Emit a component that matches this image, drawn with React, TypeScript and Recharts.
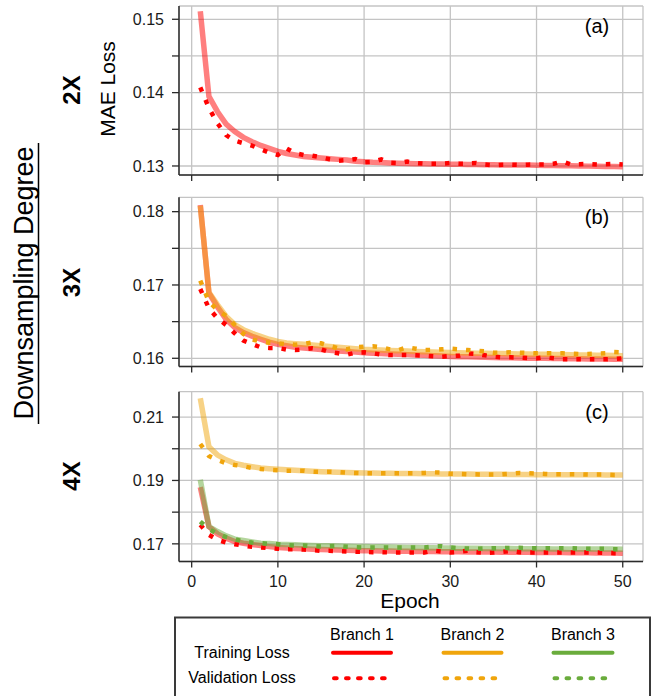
import React from 'react';
import { LineChart, Line, XAxis, YAxis, CartesianGrid } from 'recharts';

// ---------- data ----------
const epochs = [1, 2, 3, 4, 5, 6, 7, 8, 9, 10, 11, 12, 13, 14, 15, 16, 17, 18, 19, 20, 21, 22, 23, 24, 25, 26, 27, 28, 29, 30, 31, 32, 33, 34, 35, 36, 37, 38, 39, 40, 41, 42, 43, 44, 45, 46, 47, 48, 49, 50];
const xTicks = [0, 10, 20, 30, 40, 50];

// (a) 2X
const a_train_b1 = [0.1511, 0.1395, 0.1374, 0.1357, 0.1347, 0.1339, 0.1333, 0.1328, 0.1324, 0.132, 0.1317, 0.1315, 0.1313, 0.1312, 0.1311, 0.131, 0.1309, 0.1308, 0.13065, 0.13057, 0.1305, 0.13046, 0.13042, 0.13038, 0.13035, 0.13032, 0.1303, 0.13028, 0.13026, 0.13025, 0.13023, 0.13021, 0.1302, 0.13018, 0.13017, 0.13015, 0.13014, 0.13013, 0.13012, 0.1301, 0.13008, 0.13006, 0.13004, 0.13002, 0.13, 0.12998, 0.12996, 0.12994, 0.12992, 0.1299];
const a_val_b1 = [0.1407, 0.1379, 0.1358, 0.1342, 0.13345, 0.1331, 0.13277, 0.13228, 0.13182, 0.1315, 0.1324, 0.13173, 0.1315, 0.1314, 0.13118, 0.13091, 0.13072, 0.1308, 0.13095, 0.1305, 0.13055, 0.1309, 0.13045, 0.1304, 0.1306, 0.1304, 0.13032, 0.13032, 0.13032, 0.1304, 0.13032, 0.13032, 0.1304, 0.1302, 0.1301, 0.13018, 0.13018, 0.13014, 0.13018, 0.1302, 0.1302, 0.1303, 0.13062, 0.1302, 0.13025, 0.13027, 0.1302, 0.13025, 0.13027, 0.1302];

// (b) 3X
const b_train_b1 = [0.1809, 0.1689, 0.167, 0.1653, 0.1642, 0.1635, 0.163, 0.1626, 0.1622, 0.1619, 0.1617, 0.1615, 0.1614, 0.1613, 0.1612, 0.1611, 0.161, 0.16092, 0.16084, 0.16076, 0.1607, 0.16065, 0.1606, 0.16055, 0.1605, 0.16045, 0.1604, 0.16035, 0.1603, 0.16025, 0.16022, 0.1602, 0.16017, 0.16014, 0.16011, 0.16008, 0.16006, 0.16004, 0.16002, 0.16, 0.15999, 0.15998, 0.15996, 0.15995, 0.15994, 0.15992, 0.1599, 0.15989, 0.15988, 0.15986];
const b_train_b2 = [0.1808, 0.169, 0.1673, 0.1657, 0.1646, 0.1639, 0.1634, 0.163, 0.1626, 0.1623, 0.1621, 0.162, 0.1619, 0.1618, 0.1617, 0.1616, 0.1615, 0.1614, 0.1613, 0.16122, 0.16117, 0.16112, 0.16107, 0.16102, 0.16098, 0.16094, 0.1609, 0.16086, 0.16082, 0.16078, 0.16075, 0.16073, 0.1607, 0.16068, 0.16066, 0.16064, 0.16062, 0.1606, 0.16058, 0.16056, 0.16054, 0.16052, 0.1605, 0.16048, 0.16046, 0.16044, 0.16042, 0.1604, 0.16038, 0.16036];
const b_val_b1 = [0.16945, 0.16682, 0.16545, 0.16454, 0.16341, 0.16241, 0.16195, 0.1615, 0.16141, 0.16141, 0.16118, 0.16113, 0.16122, 0.16136, 0.16122, 0.16086, 0.16068, 0.1605, 0.16077, 0.16081, 0.16068, 0.1605, 0.16045, 0.16045, 0.16045, 0.16041, 0.16036, 0.16027, 0.16022, 0.16031, 0.16036, 0.16068, 0.16059, 0.16041, 0.16022, 0.16013, 0.16013, 0.16009, 0.16004, 0.16, 0.16018, 0.16, 0.15986, 0.15986, 0.15986, 0.15986, 0.15986, 0.15986, 0.1599, 0.16];
const b_val_b2 = [0.17059, 0.16773, 0.16659, 0.16577, 0.16454, 0.16332, 0.16259, 0.16227, 0.16213, 0.16204, 0.16191, 0.16186, 0.16195, 0.16218, 0.16204, 0.16168, 0.16136, 0.16122, 0.1615, 0.16159, 0.16163, 0.1615, 0.16122, 0.16113, 0.1615, 0.16131, 0.16113, 0.16113, 0.16122, 0.16131, 0.16122, 0.16113, 0.16104, 0.16095, 0.16077, 0.16077, 0.16081, 0.16077, 0.16072, 0.16068, 0.16068, 0.16068, 0.16068, 0.16063, 0.16059, 0.16059, 0.16063, 0.16068, 0.16086, 0.16081];

// (c) 4X
const c_train_b1 = [0.1879, 0.17545, 0.17315, 0.1718, 0.17073, 0.17021, 0.1698, 0.16945, 0.16912, 0.16885, 0.16868, 0.16855, 0.16843, 0.16832, 0.16822, 0.16814, 0.16806, 0.16798, 0.16791, 0.16785, 0.1678, 0.16776, 0.16772, 0.16768, 0.16765, 0.16762, 0.16759, 0.16756, 0.16753, 0.1675, 0.16748, 0.16746, 0.16744, 0.16742, 0.1674, 0.16738, 0.16736, 0.16734, 0.16732, 0.1673, 0.16728, 0.16726, 0.16724, 0.16722, 0.1672, 0.16717, 0.16714, 0.16711, 0.16708, 0.16706];
const c_train_b2 = [0.2159, 0.2006, 0.198, 0.1965, 0.1954, 0.1948, 0.19435, 0.19394, 0.19372, 0.19353, 0.19335, 0.1932, 0.19305, 0.1929, 0.19277, 0.19268, 0.1926, 0.19252, 0.19244, 0.19236, 0.19232, 0.19228, 0.19225, 0.19222, 0.19219, 0.19216, 0.19213, 0.1921, 0.19207, 0.19205, 0.19203, 0.19201, 0.19199, 0.19197, 0.19195, 0.19193, 0.19191, 0.19189, 0.19186, 0.19183, 0.19182, 0.19181, 0.1918, 0.19179, 0.19178, 0.19177, 0.19176, 0.19175, 0.19174, 0.19173];
const c_train_b3 = [0.1902, 0.17545, 0.17387, 0.17252, 0.17147, 0.17105, 0.1706, 0.17021, 0.1701, 0.1699, 0.16978, 0.16968, 0.16958, 0.1695, 0.16942, 0.16936, 0.1693, 0.16925, 0.1692, 0.16916, 0.1691, 0.16905, 0.169, 0.16894, 0.16888, 0.16884, 0.1688, 0.16875, 0.1687, 0.16866, 0.16863, 0.1686, 0.16858, 0.16856, 0.16854, 0.16852, 0.1685, 0.16848, 0.16846, 0.16843, 0.16842, 0.16841, 0.1684, 0.16839, 0.16838, 0.16837, 0.16836, 0.16835, 0.16834, 0.16832];
const c_val_b1 = [0.17598, 0.17283, 0.17126, 0.17042, 0.1699, 0.16948, 0.16906, 0.16885, 0.16864, 0.16843, 0.16832, 0.16832, 0.16822, 0.16801, 0.1678, 0.1678, 0.16769, 0.16758, 0.16748, 0.16748, 0.16738, 0.16738, 0.16727, 0.16727, 0.16727, 0.16727, 0.16727, 0.1679, 0.16758, 0.16727, 0.16748, 0.1678, 0.16738, 0.16717, 0.16727, 0.16748, 0.1678, 0.16738, 0.16727, 0.16727, 0.16727, 0.16727, 0.16727, 0.16727, 0.16727, 0.16727, 0.16727, 0.16717, 0.16706, 0.16706];
const c_val_b2 = [0.2015, 0.19772, 0.19646, 0.19541, 0.19488, 0.19446, 0.19394, 0.19362, 0.19331, 0.1932, 0.1931, 0.1931, 0.1931, 0.19278, 0.19268, 0.19278, 0.19268, 0.19247, 0.19236, 0.19226, 0.19226, 0.19226, 0.19226, 0.19226, 0.19226, 0.19226, 0.19236, 0.19257, 0.19247, 0.19215, 0.19205, 0.19194, 0.19194, 0.19184, 0.19184, 0.19194, 0.19215, 0.19236, 0.19226, 0.19215, 0.19205, 0.19194, 0.19194, 0.19194, 0.19194, 0.19184, 0.19184, 0.19184, 0.19173, 0.19173];
const c_val_b3 = [0.17703, 0.17462, 0.17315, 0.1721, 0.17147, 0.17073, 0.17042, 0.17021, 0.17, 0.1699, 0.16958, 0.16948, 0.16948, 0.16927, 0.16916, 0.16927, 0.16937, 0.16906, 0.16895, 0.16885, 0.16885, 0.16885, 0.16885, 0.16885, 0.16885, 0.16885, 0.16885, 0.16916, 0.16927, 0.16885, 0.16864, 0.16853, 0.16843, 0.16853, 0.16864, 0.16864, 0.16874, 0.16874, 0.16864, 0.16864, 0.16864, 0.16864, 0.16864, 0.16864, 0.16853, 0.16843, 0.16843, 0.16843, 0.16832, 0.16832];

// y ticks (all carry a tick mark and gridline) and the ones that carry a label
const aTicks = [0.13, 0.135, 0.14, 0.145, 0.15];
const aLabels = ['0.13', '0.14', '0.15'];
const bTicks = [0.16, 0.165, 0.17, 0.175, 0.18];
const bLabels = ['0.16', '0.17', '0.18'];
const cTicks = [0.17, 0.18, 0.19, 0.2, 0.21];
const cLabels = ['0.17', '0.19', '0.21'];

const branchNames = ['Branch 1', 'Branch 2', 'Branch 3'];
const rowNames = ['Training Loss', 'Validation Loss'];
const panelTags = ['(a)', '(b)', '(c)'];
const degreeNames = ['2X', '3X', '4X'];

// ---------- styles ----------
const FONT = '"Liberation Sans", Arial, Helvetica, sans-serif';
const RED = '#ff0000';
const ORANGE = '#f0a50c';
const GREEN = '#6aac3c';
const GRID = '#c4c4c4';
const FRAME = '#2b2b2b';
const X_DOMAIN: [number, number] = [-1.47, 52.35];

type S = { key: string; data: number[]; color: string; kind: 'train' | 'val' };

function buildRows(series: S[]) {
  return epochs.map((e, i) => {
    const row: Record<string, number> = { epoch: e };
    series.forEach((s) => { row[s.key] = s.data[i]; });
    return row;
  });
}

function Panel(props: {
  top: number; height: number; marginTop: number; xAxisHeight: number;
  yDomain: [number, number]; yTicks: number[]; yLabels: string[]; series: S[]; showX: boolean; tickMargin: number;
}) {
  const { top, height, marginTop, xAxisHeight, yDomain, yTicks, yLabels, series, showX, tickMargin } = props;
  const rows = buildRows(series);
  const yFmt = (v: number) => {
    const s = (Math.round(v * 1000) / 1000).toFixed(2);
    return yLabels.includes(s) && Math.abs(v - Number(s)) < 1e-6 ? s : '';
  };
  return (
    <div style={{ position: 'absolute', left: 0, top, width: 657, height }}>
      <LineChart width={657} height={height} data={rows}
        margin={{ top: marginTop, right: 14, bottom: 0, left: 119 }}>
        <CartesianGrid stroke={GRID} strokeWidth={1.3} />
        <XAxis dataKey="epoch" type="number" domain={X_DOMAIN} ticks={xTicks} allowDataOverflow
          height={xAxisHeight} tickSize={6} tickMargin={tickMargin}
          axisLine={{ stroke: FRAME, strokeWidth: 1.5 }} tickLine={{ stroke: FRAME, strokeWidth: 1.3 }}
          tick={{ fill: '#1a1a1a', fontSize: 16, fontFamily: FONT }}
          tickFormatter={showX ? (v: number) => String(v) : () => ''} />
        <XAxis xAxisId="top" orientation="top" dataKey="epoch" type="number" domain={X_DOMAIN} allowDataOverflow
          height={0} tick={false} tickLine={false} axisLine={{ stroke: FRAME, strokeWidth: 1.5 }} />
        <YAxis type="number" domain={yDomain} ticks={yTicks} allowDataOverflow width={60}
          tickSize={7} tickMargin={8}
          axisLine={{ stroke: FRAME, strokeWidth: 1.5 }} tickLine={{ stroke: FRAME, strokeWidth: 1.3 }}
          tick={{ fill: '#1a1a1a', fontSize: 16, fontFamily: FONT }} tickFormatter={yFmt} />
        <YAxis yAxisId="right" orientation="right" type="number" domain={yDomain} allowDataOverflow width={0}
          tick={false} tickLine={false} axisLine={{ stroke: FRAME, strokeWidth: 1.5 }} />
        {series.map((s) => (
          s.kind === 'train' ? (
            <Line key={s.key} dataKey={s.key} type="linear" stroke={s.color} strokeOpacity={0.5}
              strokeWidth={5.5} dot={false} activeDot={false} isAnimationActive={false} />
          ) : (
            <Line key={s.key} dataKey={s.key} type="linear" stroke={s.color} strokeWidth={4.5}
              strokeDasharray="4.5 9" strokeLinecap="butt" dot={false} activeDot={false} isAnimationActive={false} />
          )
        ))}
      </LineChart>
    </div>
  );
}

export default function App() {
  const aSeries: S[] = [
    { key: 't1', data: a_train_b1, color: RED, kind: 'train' },
    { key: 'v1', data: a_val_b1, color: RED, kind: 'val' },
  ];
  const bSeries: S[] = [
    { key: 't1', data: b_train_b1, color: RED, kind: 'train' },
    { key: 't2', data: b_train_b2, color: ORANGE, kind: 'train' },
    { key: 'v1', data: b_val_b1, color: RED, kind: 'val' },
    { key: 'v2', data: b_val_b2, color: ORANGE, kind: 'val' },
  ];
  const cSeries: S[] = [
    { key: 't2', data: c_train_b2, color: ORANGE, kind: 'train' },
    { key: 'v2', data: c_val_b2, color: ORANGE, kind: 'val' },
    { key: 't1', data: c_train_b1, color: RED, kind: 'train' },
    { key: 't3', data: c_train_b3, color: GREEN, kind: 'train' },
    { key: 'v1', data: c_val_b1, color: RED, kind: 'val' },
    { key: 'v3', data: c_val_b3, color: GREEN, kind: 'val' },
  ];
  const branchColors = [RED, ORANGE, GREEN];
  const branchX = [[333, 391], [443.5, 501.5], [553.5, 612.5]];
  const panelTops = [6, 197.3, 391.7];
  const degreeY = [90, 282.5, 476];

  return (
    <div style={{ position: 'absolute', left: 0, top: 0, width: 657, height: 696, background: '#fff', overflow: 'hidden', fontFamily: FONT }}>
      <Panel top={0} height={200} marginTop={6} xAxisHeight={25} yDomain={[0.12877, 0.15181]} yTicks={aTicks} yLabels={aLabels} series={aSeries} showX={false} tickMargin={2} />
      <Panel top={190} height={200} marginTop={7.3} xAxisHeight={23.5} yDomain={[0.15888, 0.18196]} yTicks={bTicks} yLabels={bLabels} series={bSeries} showX={false} tickMargin={2} />
      <Panel top={380} height={240} marginTop={11.7} xAxisHeight={58.5} yDomain={[0.16443, 0.218]} yTicks={cTicks} yLabels={cLabels} series={cSeries} showX={true} tickMargin={8} />

      <svg width={657} height={696} style={{ position: 'absolute', left: 0, top: 0, pointerEvents: 'none' }}>
        <g fontFamily={FONT} fill="#000">
          <text transform="translate(33,283) rotate(-90)" textAnchor="middle" fontSize={27}>Downsampling Degree</text>
          <line x1={38.5} x2={38.5} y1={143} y2={424} stroke="#000" strokeWidth={1.5} />
          {degreeNames.map((d, i) => (
            <text key={d} transform={`translate(80,${degreeY[i]}) rotate(-90)`} textAnchor="middle" fontSize={24} fontWeight="bold">{d}</text>
          ))}
          <text transform="translate(115,89) rotate(-90)" textAnchor="middle" fontSize={21}>MAE Loss</text>
          <text x={410} y={608} textAnchor="middle" fontSize={21}>Epoch</text>
          {panelTags.map((t, i) => (
            <text key={t} x={597} y={panelTops[i] + 27} textAnchor="middle" fontSize={20}>{t}</text>
          ))}
        </g>
        <rect x={175} y={617.5} width={475} height={100} fill="#fff" stroke="#3a3a3a" strokeWidth={2} />
        <g fontFamily={FONT} fontSize={16} fill="#000">
          {branchNames.map((b, i) => (
            <text key={b} x={(branchX[i][0] + branchX[i][1]) / 2} y={640} textAnchor="middle">{b}</text>
          ))}
          <text x={242} y={658.3} textAnchor="middle">{rowNames[0]}</text>
          <text x={242} y={683.3} textAnchor="middle">{rowNames[1]}</text>
        </g>
        {branchColors.map((c, i) => (
          <g key={c}>
            <line x1={branchX[i][0]} x2={branchX[i][1]} y1={652.7} y2={652.7} stroke={c} strokeWidth={4} strokeLinecap="round" />
            <line x1={branchX[i][0] + 1} x2={branchX[i][1]} y1={678.3} y2={678.3} stroke={c} strokeWidth={4} strokeLinecap="round" strokeDasharray="2.7 9.3" />
          </g>
        ))}
      </svg>
    </div>
  );
}
